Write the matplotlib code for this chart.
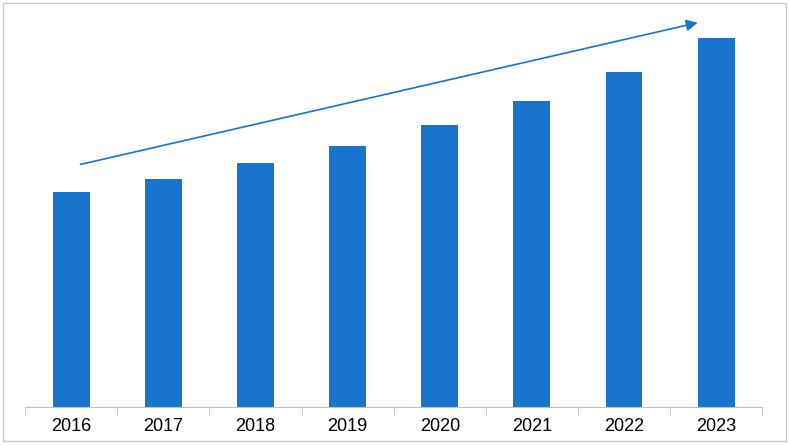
import matplotlib
matplotlib.use("Agg")
import matplotlib.pyplot as plt
from matplotlib.patches import Rectangle

years = ["2016", "2017", "2018", "2019", "2020", "2021", "2022", "2023"]
values = [215, 228, 244, 261, 282, 306, 335, 369]
arrow_start = (0.07, 242)
arrow_end = (6.83, 385)

fig = plt.figure(figsize=(7.89, 4.45), dpi=100)
fig.patches.append(Rectangle((0.004, 0.008), 0.992, 0.985, transform=fig.transFigure,
                             fill=False, edgecolor="#c8c8c8", linewidth=1))
ax = fig.add_axes([0.032, 0.0854, 0.934, 0.892])
x = list(range(len(years)))
ax.bar(x, values, width=0.4, color="#1874CD")
ax.set_xlim(-0.5, 7.5)
ax.set_ylim(0, 397)
for s in ["top", "right", "left"]:
    ax.spines[s].set_visible(False)
ax.spines["bottom"].set_color("#bfbfbf")
ax.set_yticks([])
ax.set_xticks(x)
ax.set_xticklabels(years, fontsize=13, family="Liberation Sans")
ax.tick_params(axis="x", length=0, pad=8)
ax.set_xticks([i + 0.5 for i in range(-1, 8)], minor=True)
ax.tick_params(axis="x", which="minor", length=6, color="#bfbfbf")
ax.annotate("", xy=arrow_end, xytext=arrow_start,
            arrowprops=dict(arrowstyle="-|>", color="#1874CD", lw=1.2, mutation_scale=17))
fig.savefig("out.png", dpi=100)
